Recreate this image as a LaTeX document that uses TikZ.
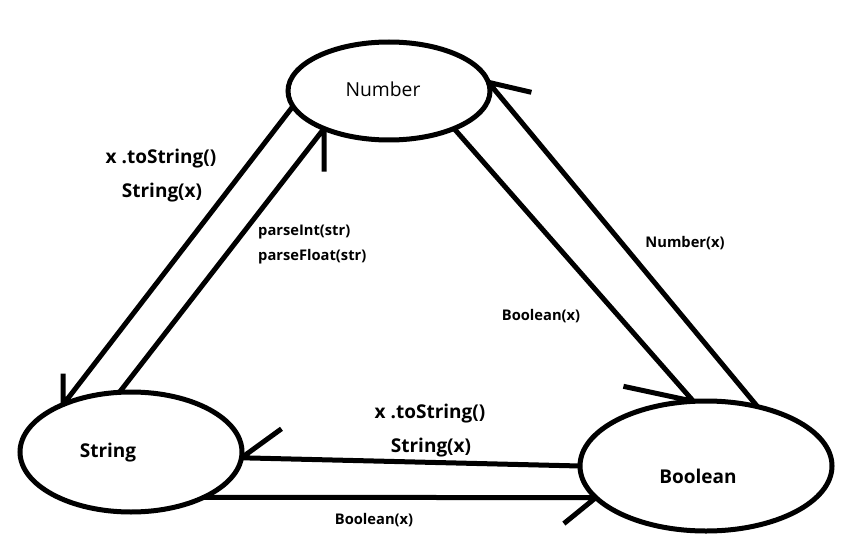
\documentclass[tikz,border=0pt]{standalone}
\usepackage{fontspec}
\setmainfont{Open Sans}
\usetikzlibrary{shapes.geometric}
\begin{document}
\begin{tikzpicture}[x=1pt,y=-1pt,
  state/.style={ellipse, draw, line width=5pt, inner sep=0pt, outer sep=0pt},
  conn/.style={line width=5pt, line join=round},
  big/.style={inner sep=0pt, font=\bfseries\fontsize{19}{21}\selectfont},
  small/.style={inner sep=0pt, font=\bfseries\fontsize{14.7}{16}\selectfont},
  plain/.style={inner sep=0pt, font=\fontsize{19.3}{21}\selectfont}
]
\useasboundingbox[fill=white] (0,0) rectangle (864,540);
% states
\node[state, minimum width=202pt, minimum height=98pt] (num) at (389,91) {};
\node[state, minimum width=222pt, minimum height=120pt] (str) at (131,452) {};
\node[state, minimum width=252pt, minimum height=130pt] (bool) at (706,466) {};
\node[plain] (numtxt) at (383,89) {Number};
\node[big] (strtxt) at (108,453) {String};
\node[big] (booltxt) at (698,476) {Boolean};
% connectors with hand-drawn half arrowheads
\draw[conn] (num.189) -- (str.145) -- ++(0,-31);
\draw[conn] (str.101) -- (num.210) -- ++(0,43);
\draw[conn] (num.330) -- (bool.101.5) -- ++(-70,-15);
\draw[conn] (bool.49.6) -- (num.5) -- ++(43,10);
\draw[conn] (bool.180.5) -- (str.357) -- ++(40,-29);
\draw[conn] (str.328) -- (bool.196.5) -- ++(-32,26);
% labels
\node[big] (l1a) at (161,159) {x .toString()};
\node[big] (l1b) at (162,193) {String(x)};
\node[small, anchor=west] (l2a) at (258,232) {parseInt(str)};
\node[small, anchor=west] (l2b) at (258,257) {parseFloat(str)};
\node[small] (l3) at (685,243) {Number(x)};
\node[small] (l4) at (541,316) {Boolean(x)};
\node[big] (l5a) at (430,414) {x .toString()};
\node[big] (l5b) at (431,448) {String(x)};
\node[small] (l6) at (374,520) {Boolean(x)};
\end{tikzpicture}
\end{document}
